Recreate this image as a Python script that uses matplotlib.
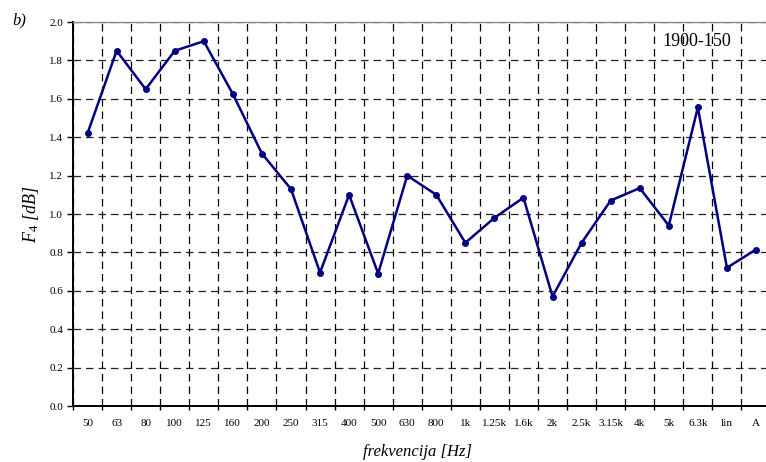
import matplotlib
matplotlib.use("Agg")
import matplotlib.pyplot as plt
import numpy as np

categories = ["50", "63", "80", "100", "125", "160", "200", "250", "315", "400",
              "500", "630", "800", "1k", "1.25k", "1.6k", "2k", "2.5k", "3.15k",
              "4k", "5k", "6.3k", "lin", "A"]
values = [1.42, 1.85, 1.65, 1.85, 1.90, 1.625, 1.315, 1.13, 0.695, 1.10,
          0.69, 1.20, 1.10, 0.85, 0.98, 1.085, 0.57, 0.85, 1.07,
          1.135, 0.94, 1.555, 0.72, 0.815]
yticks = [0.0, 0.2, 0.4, 0.6, 0.8, 1.0, 1.2, 1.4, 1.6, 1.8, 2.0]

plt.rcParams['font.family'] = ['Liberation Serif', 'DejaVu Serif']
plt.rcParams['mathtext.fontset'] = 'custom'
plt.rcParams['mathtext.it'] = 'Liberation Serif:italic'
plt.rcParams['mathtext.rm'] = 'Liberation Serif'

fig = plt.figure(figsize=(7.66, 4.62), dpi=100)
ax = fig.add_axes([73/766, 1 - 406/462, 697.5/766, 384/462])

x = np.arange(len(categories))
ax.plot(x, values, color='#000080', linewidth=1.8, marker='o', markersize=4,
        zorder=3, clip_on=False)

ax.set_xlim(-0.5, len(categories) - 0.5)
ax.set_ylim(0, 2.0)

ax.set_xticks(x)
ax.set_xticklabels(categories, fontsize=8)
ax.set_xticks(np.arange(len(categories) + 1) - 0.5, minor=True)
ax.tick_params(axis='x', which='major', length=0, pad=9)
ax.tick_params(axis='x', which='minor', length=3, width=1, direction='out', color='black')

ax.set_yticks(yticks)
ax.set_yticklabels([f"{v:.1f}" for v in yticks], fontsize=8)
ax.tick_params(axis='y', length=4, width=1, direction='out', pad=3)

ax.grid(True, axis='x', which='minor', color='black', linestyle=(0, (6, 4)), linewidth=0.9)
ax.grid(True, axis='y', which='major', color='#222222', linestyle=(0, (6, 4)), linewidth=0.9)
ax.grid(False, axis='x', which='major')
ax.set_axisbelow(True)

ax.spines['right'].set_visible(False)
ax.spines['top'].set_color('#888888')
ax.spines['top'].set_linewidth(1.0)
ax.spines['left'].set_linewidth(1.4)
ax.spines['bottom'].set_linewidth(1.4)

ax.set_ylabel(r"$F_4$ [dB]", fontsize=13, style='italic', labelpad=6)

fig.text(418/766, 1 - 452/462, "frekvencija [Hz]", fontsize=12, style='italic',
         ha='center', va='center')
fig.text(12/766, 1 - 20/462, "b)", fontsize=12, style='italic', ha='left', va='center')
ax.text(697/766, 1 - 42/462, "1900-150", fontsize=13, ha='center', va='center',
        transform=fig.transFigure)

fig.savefig("out.png", dpi=100)
